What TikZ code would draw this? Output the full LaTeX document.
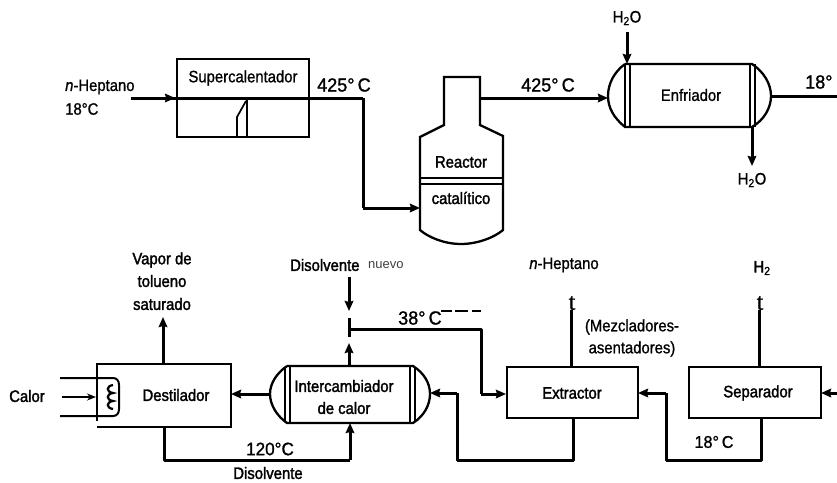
\documentclass[tikz,border=0pt]{standalone}
\usepackage{fontspec}
\setmainfont[FakeBold=1,FakeStretch=0.9]{Liberation Sans}
\newfontfamily\heavy[FakeBold=1.8,FakeStretch=0.9]{Liberation Sans}
\newfontfamily\tempf[FakeBold=1.2,FakeStretch=0.95]{Liberation Sans}
\newfontfamily\lightf{Liberation Sans}
\newfontfamily\tipf[FakeBold=1]{Liberation Serif}
\usetikzlibrary{arrows.meta,decorations.markings}
\tikzset{
 x=1pt,y=-1pt,
 vessel/.style={draw=black,line width=2.3pt,line join=miter},
 thinv/.style={draw=black,line width=1.7pt},
 pipe/.style={draw=black,line width=3pt,line join=round},
 arrowpipe/.style={pipe,-{Stealth[length=10pt,width=8.5pt,inset=1pt]}},
 midtip/.style={pipe,postaction={decorate},decoration={markings,mark=at position #1 with {\arrow{Stealth[length=10pt,width=8.5pt,inset=1pt]}}}},
 lbl/.style={inner sep=0pt,font=\fontsize{16.5}{18}\selectfont,text=black},
 lbb/.style={inner sep=0pt,font=\heavy\fontsize{16.5}{18}\selectfont,text=black},
 temp/.style={inner sep=0pt,font=\tempf\fontsize{19}{21}\selectfont,text=black},
 tipt/.style={inner sep=0pt,font=\tipf\fontsize{24}{24}\selectfont},
}
\begin{document}
\begin{tikzpicture}
\useasboundingbox (0,0) rectangle (837,482);
\fill[white] (0,0) rectangle (837,482);
% coordinates
\coordinate (nin) at (131,98);
\coordinate (sc1) at (363,98);
\coordinate (sc2) at (363,208);
\coordinate (rin) at (420,208);
\coordinate (rout) at (480,98);
\coordinate (ein) at (608,98);
\coordinate (eout) at (771,96);
\coordinate (eend) at (837,96);
% Supercalentador
\node[vessel,minimum width=132pt,minimum height=78pt,inner sep=0pt] (sup) at (243,98) {};
\node[lbl] (suplab) at (243,78) {Supercalentador};
\node[lbl,anchor=west] (nh) at (65,87) {\textit{n}-Heptano};
\node[lbl,anchor=west] (t18) at (65,109) {18°C};
\draw[midtip=0.19] (nin) -- (sc1);
\draw[thinv] (247,100) -- (247,137) (237,137) -- (237,117) -- (246,101);
\node[temp,anchor=west] (t425a) at (317,85) {425°\,C};
\draw[pipe] (sc1) -- (sc2);
\draw[arrowpipe] (sc2) -- (rin);
% Reactor
\draw[vessel] (444,125) -- (444,77) -- (480,77) -- (480,125) -- (503,136) -- (503,230)
  .. controls (495,237) and (478,244) .. (461,244)
  .. controls (444,244) and (428,237) .. (420,230) -- (420,137) -- cycle;
\draw[thinv] (420,178) -- (503,178) (420,184) -- (503,184);
\node[lbb] (rea) at (461,162) {Reactor};
\node[lbb] (cat) at (461,198) {catalítico};
% Enfriador
\draw[vessel] (625,64) -- (752,64) .. controls (764,72) and (771,84) .. (771,96)
  .. controls (771,108) and (764,120) .. (752,127) -- (625,127)
  .. controls (614,118) and (608,108) .. (608,96) .. controls (608,84) and (614,72) .. (625,64);
\draw[thinv] (625,64) -- (625,127) (630,64) -- (630,127) (750,64) -- (750,127) (755,64) -- (755,127);
\node[lbl] (enf) at (691,95) {Enfriador};
\draw[arrowpipe] (rout) -- (ein);
\node[temp,anchor=west] (t425b) at (521,85) {425°\,C};
\draw[pipe] (eout) -- (eend);
\node[temp,anchor=west] (t18b) at (805,82) {18°};
\node[lbl] (wa) at (627,18) {H\textsubscript{2}O};
\node[lbl] (wb) at (752,180) {H\textsubscript{2}O};
\coordinate (wain) at (627,32);
\coordinate (waout) at (627,64);
\coordinate (wbin) at (752,127);
\coordinate (wbout) at (752,166);
\draw[arrowpipe] (wain) -- (waout);
\draw[arrowpipe] (wbin) -- (wbout);
% Destilador
\draw[vessel] (97,427) -- (231,427) -- (231,364) -- (97,364) -- (97,421);
\node[lbb] (des) at (176,395) {Destilador};
\node[lbb] (cal) at (27,396) {Calor};
\draw[thinv,line width=2pt] (60,378) -- (113,378) .. controls (117,378) and (119,381) .. (119,385) -- (119,409)
  .. controls (119,413) and (117,416) .. (113,416) -- (60,416);
\draw[thinv,line width=2.2pt] (113,385) .. controls (106,386) and (106,392) .. (113,393)
  .. controls (106,394) and (106,400) .. (113,401) .. controls (106,402) and (106,408) .. (113,409);
\draw[draw=black,line width=2pt,-{Stealth[length=9pt,width=7pt]}] (62,397) -- (96,397);
\node[lbb] (v1) at (162,260) {Vapor de};
\node[lbb] (v2) at (162,281) {tolueno};
\node[lbb] (v3) at (162,304) {saturado};
\coordinate (vin) at (163,364);
\coordinate (vout) at (163,317);
\draw[arrowpipe] (vin) -- (vout);
% Intercambiador
\draw[vessel] (287,366) -- (413,366) .. controls (424,373) and (430,383) .. (430,394)
  .. controls (430,405) and (424,416) .. (413,423) -- (287,423)
  .. controls (277,416) and (270,405) .. (270,394) .. controls (270,383) and (277,373) .. (287,366);
\draw[thinv] (285,367) -- (285,422) (290,366) -- (290,423) (410,366) -- (410,423) (415,367) -- (415,422);
\node[lbb] (i2) at (344,386) {Intercambiador};
\node[lbb] (i3) at (344,408) {de calor};
\draw[arrowpipe] (270,394) -- (231,394);
% Disolvente
\node[lbb,anchor=west] (dn) at (290,265) {Disolvente};
\node[inner sep=0pt,text=black!75,font=\lightf\fontsize{13}{15}\selectfont,anchor=west] (nu) at (368,265) {nuevo};
\coordinate (dnin) at (349,277);
\coordinate (dnout) at (349,311);
\draw[arrowpipe] (dnin) -- (dnout);
\coordinate (b1) at (349,318);
\coordinate (b2) at (349,337);
\coordinate (b3) at (349,329);
\coordinate (b4) at (481,329);
\coordinate (b5) at (481,394);
\draw[pipe] (b1) -- (b2);
\draw[pipe] (b3) -- (b4) -- (b5);
\draw[arrowpipe] (b5) -- (506,394);
\draw[arrowpipe] (349,366) -- (349,343);
\node[temp,anchor=west] (t38) at (398,318) {38°\,C};
\draw[line width=2pt] (441,311) -- (452,311) (455,311) -- (468,311) (472,311) -- (481,311);
% loop below
\draw[pipe] (164,427) -- (164,460) -- (350,460);
\draw[arrowpipe] (350,460) -- (350,423);
\node[temp,font=\tempf\fontsize{18}{20}\selectfont] (t120) at (270,449) {120°C};
\node[lbb] (dis) at (268,473) {Disolvente};
% Extractor
\node[vessel,minimum width=131pt,minimum height=51pt,inner sep=0pt] (ext) at (572.5,392.5) {};
\node[lbb] (extl) at (572,393) {Extractor};
\node[vessel,minimum width=132pt,minimum height=51pt,inner sep=0pt] (sep) at (755,392.5) {};
\node[lbb] (sepl) at (758,393) {Separador};
\node[lbl] (mz1) at (632,327) {(Mezcladores-};
\node[lbl] (mz2) at (632,349) {asentadores)};
\node[lbl] (nh2) at (564,265) {\textit{n}-Heptano};
\node[lbb] (h2) at (762,268) {H\textsubscript{2}};
\draw[pipe] (571,367) -- (571,310);
\draw[pipe] (759,367) -- (759,310);
\node[tipt] (ta) at (572,303) {t};
\node[tipt] (tb) at (760,303) {t};
\draw[pipe] (573,418) -- (573,460) -- (457,460) -- (457,393);
\draw[arrowpipe] (457,393) -- (430,393);
\draw[pipe] (761,418) -- (761,460) -- (666,460) -- (666,393);
\draw[arrowpipe] (666,393) -- (638,393);
\node[temp,font=\tempf\fontsize{17}{19}\selectfont] (t18c) at (714,442) {18°\,C};
\coordinate (sepin) at (837,393);
\draw[arrowpipe] (sepin) -- (821,393);
\end{tikzpicture}
\end{document}
